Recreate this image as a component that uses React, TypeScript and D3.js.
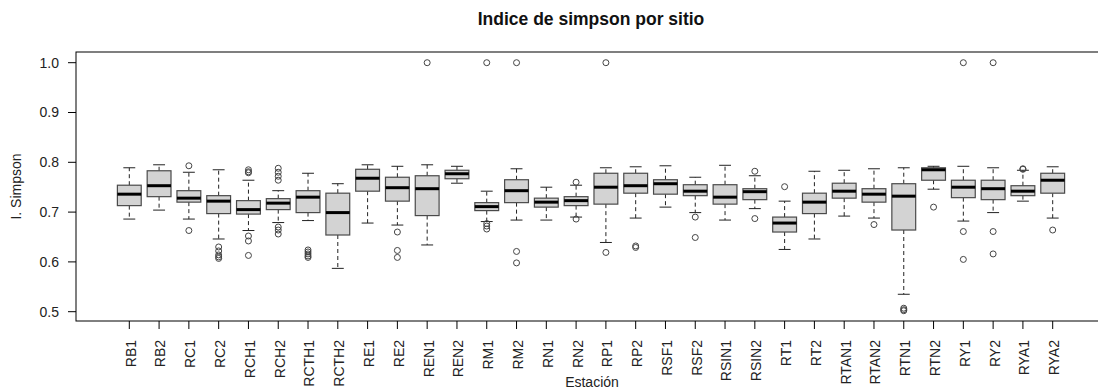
import React from "react";
import * as d3 from "d3";

const stations = ["RB1","RB2","RC1","RC2","RCH1","RCH2","RCTH1","RCTH2","RE1","RE2","REN1","REN2","RM1","RM2","RN1","RN2","RP1","RP2","RSF1","RSF2","RSIN1","RSIN2","RT1","RT2","RTAN1","RTAN2","RTN1","RTN2","RY1","RY2","RYA1","RYA2"];
const whiskerHigh = [0.789,0.795,0.780,0.785,0.764,0.743,0.778,0.757,0.795,0.792,0.795,0.792,0.742,0.787,0.750,0.754,0.789,0.791,0.793,0.770,0.794,0.773,0.722,0.782,0.784,0.787,0.789,0.792,0.792,0.789,0.784,0.791];
const q3 = [0.754,0.783,0.743,0.733,0.723,0.727,0.743,0.738,0.786,0.770,0.773,0.784,0.719,0.765,0.728,0.731,0.778,0.778,0.765,0.755,0.755,0.747,0.690,0.738,0.758,0.747,0.757,0.789,0.764,0.764,0.753,0.778];
const medians = [0.736,0.753,0.728,0.722,0.705,0.718,0.730,0.699,0.768,0.749,0.747,0.777,0.711,0.743,0.720,0.723,0.750,0.753,0.757,0.742,0.730,0.741,0.678,0.720,0.742,0.736,0.732,0.785,0.750,0.747,0.742,0.764];
const q1 = [0.713,0.731,0.720,0.697,0.696,0.705,0.699,0.654,0.742,0.722,0.693,0.767,0.703,0.719,0.710,0.713,0.716,0.738,0.736,0.733,0.716,0.725,0.660,0.697,0.728,0.720,0.664,0.764,0.729,0.725,0.733,0.738];
const whiskerLow = [0.686,0.704,0.686,0.646,0.663,0.679,0.683,0.587,0.678,0.674,0.634,0.758,0.681,0.684,0.684,0.690,0.639,0.688,0.710,0.699,0.684,0.707,0.625,0.646,0.692,0.688,0.535,0.746,0.682,0.699,0.722,0.688];
const outliers = [
  [],
  [],
  [0.793,0.663],
  [0.630,0.622,0.614,0.610,0.607],
  [0.785,0.781,0.779,0.652,0.642,0.613],
  [0.788,0.780,0.772,0.764,0.670,0.664,0.656],
  [0.624,0.620,0.616,0.612,0.609],
  [],
  [],
  [0.660,0.623,0.609],
  [1.0],
  [],
  [1.0,0.677,0.672,0.666],
  [1.0,0.621,0.598],
  [],
  [0.760,0.686],
  [1.0,0.619],
  [0.632,0.629],
  [],
  [0.690,0.649],
  [],
  [0.782,0.687],
  [0.751],
  [],
  [],
  [0.675],
  [0.507,0.504,0.502],
  [0.710],
  [1.0,0.661,0.605],
  [1.0,0.661,0.616],
  [0.787,0.786],
  [0.664],
];
const yTicks = [0.5,0.6,0.7,0.8,0.9,1.0];

const W = 1098, H = 390;
const left = 76, right = 1107, top = 52, bottom = 321;
const font = "'Liberation Sans', Arial, Helvetica, sans-serif";

export default function App() {
  const x = d3.scaleLinear().domain([1, stations.length]).range([129.3, 1052.7]);
  const y = d3.scaleLinear().domain([0.5, 1.0]).range([311.7, 62.7]);
  const step = x(2) - x(1);
  const bw = step * 0.8;
  const cw = bw * 0.5;
  const boxStroke = "#4a4a4a";
  return (
    <svg width={W} height={H} style={{ position: "absolute", left: 0, top: 0, background: "#fff" }} fontFamily={font}>
      <rect x={0} y={0} width={W} height={H} fill="#fff" />
      <text x={591} y={25} textAnchor="middle" fontSize={17.5} fontWeight="bold" fill="#111">Indice de simpson por sitio</text>
      {stations.map((s, i) => {
        const cx = x(i + 1);
        return (
          <g key={s}>
            <line x1={cx} x2={cx} y1={y(q3[i])} y2={y(whiskerHigh[i])} stroke="#222" strokeDasharray="4,3" />
            <line x1={cx} x2={cx} y1={y(q1[i])} y2={y(whiskerLow[i])} stroke="#222" strokeDasharray="4,3" />
            <line x1={cx - cw / 2} x2={cx + cw / 2} y1={y(whiskerHigh[i])} y2={y(whiskerHigh[i])} stroke="#222" />
            <line x1={cx - cw / 2} x2={cx + cw / 2} y1={y(whiskerLow[i])} y2={y(whiskerLow[i])} stroke="#222" />
            <rect x={cx - bw / 2} y={y(q3[i])} width={bw} height={y(q1[i]) - y(q3[i])} fill="#d3d3d3" stroke={boxStroke} strokeWidth={1.2} />
            <line x1={cx - bw / 2} x2={cx + bw / 2} y1={y(medians[i])} y2={y(medians[i])} stroke="#000" strokeWidth={3} />
            {outliers[i].map((o, j) => (
              <circle key={j} cx={cx} cy={y(o)} r={3} fill="none" stroke="#444" strokeWidth={1} />
            ))}
          </g>
        );
      })}
      <rect x={left} y={top} width={right - left} height={bottom - top} fill="none" stroke="#000" strokeWidth={1} />
      {yTicks.map((t) => (
        <g key={t}>
          <line x1={left - 8} x2={left} y1={y(t)} y2={y(t)} stroke="#000" />
          <text x={59} y={y(t)} dy="0.35em" textAnchor="end" fontSize={14} fill="#222">{t.toFixed(1)}</text>
        </g>
      ))}
      {stations.map((s, i) => (
        <g key={"t" + s}>
          <line x1={x(i + 1)} x2={x(i + 1)} y1={bottom} y2={bottom + 8} stroke="#000" />
          <text transform={`translate(${x(i + 1) + 1.5},${340}) rotate(-90)`} textAnchor="end" dy="0.35em" fontSize={14} fill="#222">{s}</text>
        </g>
      ))}
      <text x={592} y={387} textAnchor="middle" fontSize={14} fill="#222">Estación</text>
      <text transform={`translate(21,${(top + bottom) / 2}) rotate(-90)`} textAnchor="middle" fontSize={14} fill="#222">I. Simpson</text>
    </svg>
  );
}
